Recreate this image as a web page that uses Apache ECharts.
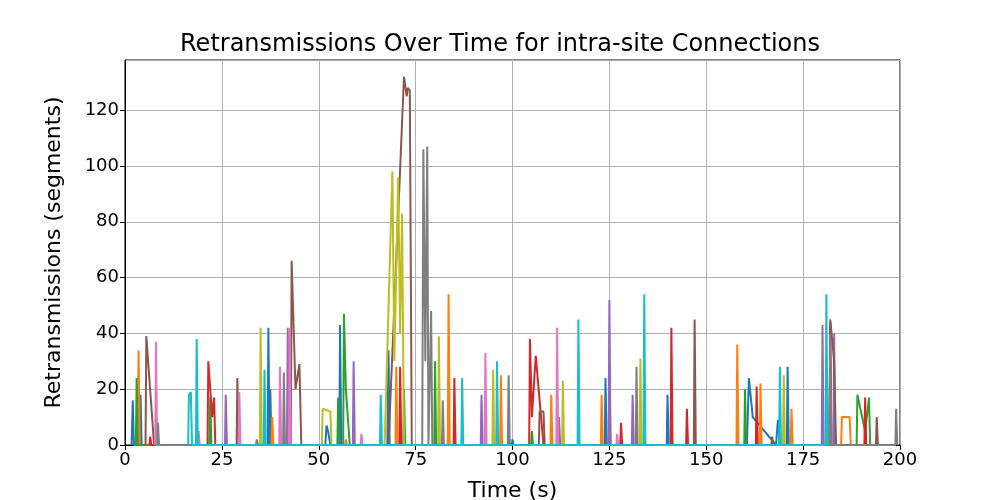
<!DOCTYPE html>
<html><head><meta charset="utf-8">
<script src="https://cdn.jsdelivr.net/npm/echarts@6/dist/echarts.min.js"></script>
<style>body{margin:0}#c{width:1000px;height:500px}</style></head>
<body><div id="c"></div>
<script>
const xTicks=[0,25,50,75,100,125,150,175,200];
const names=['c0','c1','c2','c3','c4','c5','c6','c7','c8','c9'];
const colors=['#1f77b4','#ff7f0e','#2ca02c','#d62728','#9467bd','#8c564b','#e377c2','#7f7f7f','#bcbd22','#17becf'];
const s0=[[1.7,0],[2,16],[2.3,0],[3.8,0],[4,18],[4.3,0],[36.8,0],[37,42],[37.3,0],[37.5,20],[37.8,0],[51.7,0],[52,7],[52.4,5],[53,0],[55.3,0],[55.5,43],[55.8,0],[67.7,0],[68,34],[68.3,0],[99.8,0],[100,2],[100.3,0],[123.8,0],[124,24],[124.3,0],[139.8,0],[140,18],[140.3,0],[160.5,0],[161,24],[162,10],[168,0],[168.5,9],[169,0],[170.8,0],[171,28],[171.3,0],[181.8,0],[182,30],[182.3,0]];
const s1=[[3.3,0],[3.5,34],[3.8,0],[37.8,0],[38,10],[38.3,0],[56.8,0],[57,2],[57.3,0],[69.8,0],[70,28],[70.3,0],[83.3,0],[83.5,54],[83.8,0],[96.8,0],[97,25],[97.3,0],[109.8,0],[110,18],[110.3,0],[122.8,0],[123,18],[123.3,0],[157.8,0],[158,36],[158.3,0],[163.8,0],[164,22],[164.3,0],[171.8,0],[172,13],[172.3,0],[184.8,0],[185,10],[187,10],[187.3,0]];
const s2=[[2.8,0],[3,24],[3.3,0],[21.8,0],[22,17],[22.3,0],[54.8,0],[55,17],[55.3,0],[56.3,0],[56.5,47],[57,20],[58,0],[71.8,0],[72,20],[72.3,0],[79.8,0],[80,30],[80.3,0],[104.8,0],[105,5],[105.3,0],[124.8,0],[125,27],[125.3,0],[159.8,0],[160,20],[160.3,0],[179.8,0],[180,2],[180.3,0],[188.8,0],[189,18],[191,5],[192,17],[192.3,0]];
const s3=[[6.3,0],[6.5,3],[6.8,0],[21.3,0],[21.5,30],[22.5,10],[23,17],[23.3,0],[70.8,0],[71,28],[71.3,0],[84.8,0],[85,24],[85.3,0],[104.3,0],[104.5,38],[105,10],[106,32],[108,0],[127.8,0],[128,8],[128.3,0],[140.8,0],[141,42],[141.3,0],[144.8,0],[145,13],[145.3,0],[162.8,0],[163,21],[163.3,0],[181.8,0],[182,44],[182.3,0],[190.8,0],[191,17],[191.3,0]];
const s4=[[25.8,0],[26,18],[26.3,0],[41.8,0],[42,42],[42.3,0],[58.8,0],[59,30],[59.3,0],[91.8,0],[92,18],[92.3,0],[111.8,0],[112,10],[112.3,0],[124.8,0],[125,52],[125.3,0],[130.8,0],[131,18],[131.3,0],[179.8,0],[180,43],[180.3,0],[182.8,0],[183,40],[183.3,0]];
const s5=[[5.3,0],[5.5,39],[7,10],[7.5,0],[28.8,0],[29,24],[29.3,0],[42.8,0],[43,66],[44,20],[45,29],[45.5,0],[68,0],[72,132],[72.7,125],[73,128],[73.5,127],[74,0],[106.8,0],[107,12],[108,12],[108.3,0],[146.8,0],[147,45],[147.3,0],[166.8,0],[167,3],[167.3,0],[181.8,0],[182,45],[183,30],[183.5,0],[193.8,0],[194,10],[194.3,0]];
const s6=[[7.8,0],[8,37],[8.3,0],[18.8,0],[19,5],[19.3,0],[29.3,0],[29.5,19],[29.8,0],[39.8,0],[40,28],[40.3,0],[42.3,0],[42.5,42],[42.8,0],[60.8,0],[61,4],[61.3,0],[92.8,0],[93,33],[93.3,0],[111.3,0],[111.5,42],[111.8,0],[126.8,0],[127,4],[127.3,0]];
const s7=[[8.3,0],[8.5,8],[8.8,0],[33.8,0],[34,2],[34.3,0],[40.8,0],[41,26],[41.3,0],[76.7,0],[77,106],[77.5,30],[78,107],[78.3,0],[78.8,0],[79,48],[79.3,0],[81.8,0],[82,16],[82.3,0],[98.8,0],[99,25],[99.3,0],[131.8,0],[132,28],[132.3,0],[181.8,0],[182,40],[182.3,0],[198.8,0],[199,13],[199.3,0]];
const s8=[[34.8,0],[35,42],[35.3,0],[50.8,0],[51,13],[53,12],[53.3,0],[67,0],[69,98],[69.5,30],[70.5,96],[71,40],[71.5,83],[72,0],[80.8,0],[81,39],[81.3,0],[94.8,0],[95,27],[95.3,0],[112.8,0],[113,23],[113.3,0],[132.8,0],[133,31],[133.3,0],[169.8,0],[170,25],[170.3,0]];
const s9=[[16.3,0],[16.5,18],[17,19],[17.3,0],[18.3,0],[18.5,38],[18.8,0],[35.8,0],[36,27],[36.3,0],[65.8,0],[66,18],[66.3,0],[86.8,0],[87,24],[87.3,0],[95.8,0],[96,30],[96.3,0],[116.8,0],[117,45],[117.3,0],[133.8,0],[134,54],[134.3,0],[168.8,0],[169,28],[169.3,0],[180.8,0],[181,54],[181.3,0]];
const data=[s0,s1,s2,s3,s4,s5,s6,s7,s8,s9];
const F='DejaVu Sans';
echarts.init(document.getElementById('c')).setOption({
 animation:false,
 title:{text:'Retransmissions Over Time for intra-site Connections',left:'center',top:28,textStyle:{fontFamily:F,fontSize:24,fontWeight:'normal',color:'#000'}},
 grid:{left:125,right:100,top:60,bottom:55,outerBoundsMode:'none',containLabel:false,show:true,borderColor:'#000',borderWidth:1},
 xAxis:{type:'value',min:0,max:200,interval:25,name:'Time (s)',nameLocation:'middle',nameGap:35,
  nameTextStyle:{fontFamily:F,fontSize:22,color:'#000'},
  axisLine:{lineStyle:{color:'#000'}},axisTick:{show:true,length:5,lineStyle:{color:'#000'}},
  axisLabel:{fontFamily:F,fontSize:18,color:'#000',margin:6},splitLine:{lineStyle:{color:'#b0b0b0'}}},
 yAxis:{type:'value',min:0,max:138,interval:20,name:'Retransmissions (segments)',nameLocation:'middle',nameGap:60,
  nameTextStyle:{fontFamily:F,fontSize:22,color:'#000'},
  axisLine:{show:true,lineStyle:{color:'#000'}},axisTick:{show:true,length:5,lineStyle:{color:'#000'}},
  axisLabel:{fontFamily:F,fontSize:18,color:'#000',margin:6,showMaxLabel:false},splitLine:{lineStyle:{color:'#b0b0b0'}}},
 series:data.map((d,i)=>({name:names[i],type:'line',data:d,showSymbol:false,lineStyle:{width:2,color:colors[i]},itemStyle:{color:colors[i]}}))
});
</script></body></html>
